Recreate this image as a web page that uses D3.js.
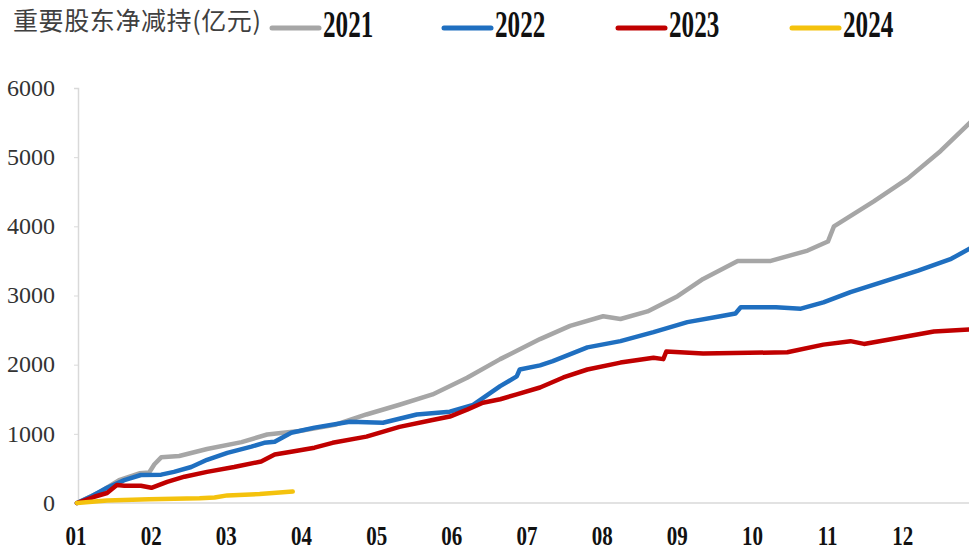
<!DOCTYPE html>
<html>
<head>
<meta charset="utf-8">
<script src="https://cdn.jsdelivr.net/npm/d3@7"></script>
<style>
  body { margin: 0; background: #fff; }
  svg { display: block; }
</style>
</head>
<body>
<div class="container"></div>
<script>
// month positions: 0 = start of Jan, 12 = end of Dec
const monthLabels = ["01","02","03","04","05","06","07","08","09","10","11","12"]
const yTicks = [0,1000,2000,3000,4000,5000,6000]
const years = ["2021","2022","2023","2024"]
const colors = ["#a6a6a6","#1f6fc0","#c00000","#f4c20d"]

const series2021 = [[0,0],[0.29,150],[0.56,330],[0.83,430],[0.96,440],[1.03,560],[1.12,660],[1.36,680],
  [1.73,780],[2.19,880],[2.53,990],[2.96,1040],[3.43,1130],[3.85,1280],[4.29,1420],[4.73,1570],
  [5.19,1810],[5.63,2080],[6.16,2370],[6.56,2560],[7.0,2700],[7.23,2660],[7.59,2770],[7.99,2990],
  [8.33,3240],[8.79,3500],[9.23,3500],[9.72,3650],[9.99,3780],[10.07,4000],[10.6,4360],[11.05,4690],
  [11.49,5090],[11.88,5500],[12,5600]]
const series2022 = [[0,0],[0.2,100],[0.4,220],[0.63,330],[0.85,405],[1.12,410],[1.29,450],[1.52,520],
  [1.73,625],[2.0,725],[2.32,815],[2.49,870],[2.63,885],[2.85,1015],[3.16,1090],[3.63,1175],
  [4.07,1160],[4.52,1280],[4.96,1320],[5.27,1420],[5.63,1690],[5.85,1830],[5.89,1930],[6.16,1990],
  [6.33,2050],[6.79,2250],[7.23,2340],[7.67,2470],[8.12,2615],[8.56,2700],[8.76,2740],[8.83,2830],
  [9.3,2830],[9.63,2810],[9.93,2900],[10.29,3050],[10.73,3200],[11.19,3360],[11.63,3530],[11.88,3680],[12,3740]]
const series2023 = [[0,0],[0.23,90],[0.4,145],[0.53,260],[0.63,250],[0.85,250],[0.99,220],[1.2,305],
  [1.43,380],[1.73,450],[2.09,520],[2.45,600],[2.63,700],[2.85,740],[3.16,800],[3.4,870],[3.85,960],
  [4.29,1100],[4.73,1200],[4.96,1250],[5.19,1350],[5.4,1450],[5.63,1500],[5.85,1570],[6.16,1670],
  [6.47,1815],[6.79,1930],[7.23,2030],[7.67,2100],[7.8,2080],[7.84,2190],[8.33,2160],[9.45,2180],
  [9.93,2290],[10.29,2340],[10.47,2300],[11.05,2410],[11.4,2480],[11.88,2510],[12,2510]]
const series2024 = [[0,0],[0.4,35],[0.96,55],[1.63,70],[1.83,80],[2.0,110],[2.43,130],[2.87,165]]
const allSeries = [series2021,series2022,series2023,series2024]

const width = 969
const height = 551

const xScale = d3.scaleLinear().domain([0,12]).range([77,979])
const yScale = d3.scaleLinear().domain([0,6000]).range([503,88])

const svg = d3.select(".container").append("svg").attr("width",width).attr("height",height)

// axes
const yAxis = d3.axisLeft(yScale).tickValues(yTicks).tickSize(4).tickFormat(d => d)
const gy = svg.append("g").attr("transform","translate(78,0)").call(yAxis)
gy.select(".domain").attr("stroke","#d9d9d9").attr("stroke-width",1.5)
gy.selectAll(".tick line").attr("stroke","#d9d9d9")
gy.selectAll(".tick text")
  .attr("x",-23)
  .attr("dy","0.3em")
  .style("font-family","'Liberation Serif','Times New Roman',serif")
  .style("font-size","24px")
  .attr("fill","#333")

svg.append("line")
  .attr("x1",78).attr("x2",width)
  .attr("y1",yScale(0)).attr("y2",yScale(0))
  .attr("stroke","#d9d9d9").attr("stroke-width",1.5)

svg.append("g").selectAll("g")
  .data(monthLabels)
  .enter()
  .append("g")
  .attr("transform",(d,i)=> "translate(" + (xScale(i)-1) + ",545) scale(0.75,1)")
  .append("text")
  .text(d => d)
  .attr("text-anchor","middle")
  .style("font-family","'Liberation Serif','Times New Roman',serif")
  .style("font-weight","bold")
  .style("font-size","28px")
  .attr("fill","#111")

// lines
const line = d3.line().x(d => xScale(d[0])).y(d => yScale(d[1]))
svg.append("defs").append("clipPath").attr("id","plot")
  .append("rect").attr("x",70).attr("y",60).attr("width",width-70).attr("height",450)
svg.append("g").attr("clip-path","url(#plot)")
  .selectAll("path")
  .data(allSeries)
  .enter()
  .append("path")
  .attr("d",line)
  .attr("fill","none")
  .attr("stroke",(d,i)=> colors[i])
  .attr("stroke-width",4.5)
  .attr("stroke-linejoin","round")
  .attr("stroke-linecap","round")

// title + legend
svg.append("text")
  .text("重要股东净减持(亿元)")
  .attr("x",13).attr("y",30)
  .style("font-family","'Noto Sans CJK SC',sans-serif")
  .style("font-size","25px")
  .style("letter-spacing","0.6px")
  .attr("fill","#404040")

const legendX = [272,444,618,792]
const legend = svg.append("g").selectAll("g")
  .data(years)
  .enter()
  .append("g")
legend.append("line")
  .attr("x1",(d,i)=> legendX[i]).attr("x2",(d,i)=> legendX[i]+47)
  .attr("y1",28).attr("y2",28)
  .attr("stroke",(d,i)=> colors[i])
  .attr("stroke-width",5)
  .attr("stroke-linecap","round")
legend.append("g")
  .attr("transform",(d,i)=> "translate(" + (legendX[i]+51) + ",37) scale(0.68,1)")
  .append("text")
  .text(d => d)
  .style("font-family","'Liberation Serif','Times New Roman',serif")
  .style("font-weight","bold")
  .style("font-size","37px")
  .attr("fill","#111")
</script>
</body>
</html>
